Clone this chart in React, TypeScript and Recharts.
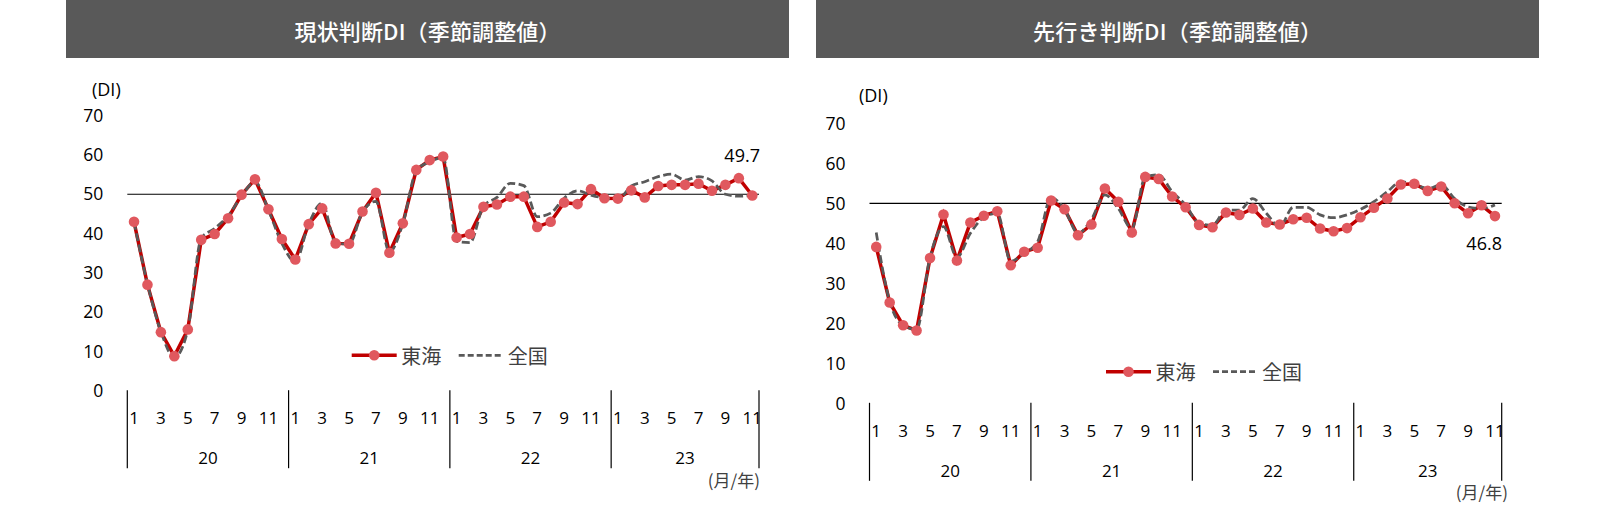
import { LineChart, Line, XAxis, YAxis, ReferenceLine } from "recharts";

const YEARS = ["20", "21", "22", "23"];
const MONTHS_IN_YEAR = [12, 12, 12, 11];
const Y_TICKS = [0, 10, 20, 30, 40, 50, 60, 70];

// 現状判断DI（季節調整値）
const CURRENT_TOKAI = [
  43.0, 27.0, 14.9, 8.8, 15.6, 38.4, 39.9, 43.9, 49.9, 53.8, 46.2, 38.6,
  33.4, 42.4, 46.4, 37.5, 37.4, 45.6, 50.4, 35.1, 42.6, 56.2, 58.7, 59.6,
  39.0, 39.9, 46.8, 47.4, 49.4, 49.4, 41.7, 43.0, 47.9, 47.5, 51.3, 49.0,
  48.9, 51.0, 49.2, 52.1, 52.4, 52.4, 52.7, 50.9, 52.4, 54.1, 49.7,
];
const CURRENT_NATIONAL = [
  43.0, 27.2, 15.0, 8.5, 15.5, 38.8, 41.3, 44.5, 49.5, 53.2, 46.0, 37.5,
  32.8, 42.5, 47.7, 37.6, 37.3, 45.5, 48.2, 35.3, 42.5, 56.0, 58.3, 59.3,
  38.0, 37.7, 47.0, 49.2, 52.8, 52.2, 44.3, 45.2, 49.0, 50.9, 49.8, 49.0,
  48.7, 52.1, 53.2, 54.5, 55.1, 53.6, 54.5, 53.4, 50.0, 49.5, 49.8,
];

// 先行き判断DI（季節調整値）
const OUTLOOK_TOKAI = [
  39.1, 25.2, 19.5, 18.2, 36.3, 47.2, 35.7, 45.2, 46.9, 48.0, 34.5, 37.9,
  38.9, 50.7, 48.5, 42.0, 44.7, 53.7, 50.4, 42.7, 56.6, 56.1, 51.7, 49.0,
  44.6, 44.0, 47.7, 47.1, 48.7, 45.2, 44.7, 46.0, 46.4, 43.7, 43.0, 43.8,
  46.5, 48.9, 51.2, 54.7, 54.9, 53.1, 54.2, 50.0, 47.5, 49.5, 46.8,
];
const OUTLOOK_NATIONAL = [
  42.7, 25.5, 19.5, 18.5, 36.5, 44.2, 36.5, 42.5, 46.5, 47.5, 35.5, 37.5,
  40.4, 51.4, 48.5, 42.5, 46.0, 52.1, 48.7, 43.7, 56.6, 57.1, 52.9, 49.6,
  45.0, 44.5, 48.3, 48.3, 51.2, 47.5, 44.2, 49.0, 49.0, 47.1, 46.4, 47.1,
  48.5, 50.4, 52.9, 55.4, 54.7, 53.7, 54.6, 51.2, 49.1, 48.7, 49.6,
];

const categories = YEARS.flatMap((year, i) =>
  Array.from({ length: MONTHS_IN_YEAR[i] }, (_, m) => ({
    year,
    month: m + 1,
    count: MONTHS_IN_YEAR[i],
  }))
);

const RED = "#C00000";
const DOT = "#E0585E";
const GRAY = "#595959";
const TEXT = "#404040";
const NUM_FONT = "'Open Sans', 'Noto Sans', sans-serif";
const JP_FONT = "'Noto Sans CJK JP', sans-serif";

const W = 800;
const H = 505;
const Y_W = 40;
const X_H = 80;

interface Plot {
  left: number;
  right: number;
  top: number;
  bottom: number;
}

interface PanelProps {
  offsetX: number;
  plot: Plot;
  tokai: number[];
  national: number[];
  labelDx: number;
  labelDy: number;
}

const Panel = ({ offsetX, plot, tokai, national, labelDx, labelDy }: PanelProps) => {
  const data = categories.map((c, i) => ({
    key: `${c.year}-${c.month}`,
    tokai: tokai[i],
    national: national[i],
  }));
  const band = (plot.right - plot.left) / categories.length;
  const last = data.length - 1;

  const renderTick = (props: any) => {
    const { x, y } = props;
    const index = props.index ?? props.payload?.index;
    const c = categories[index];
    if (!c) return <g />;
    return (
      <g>
        {c.month % 2 === 1 && (
          <text
            x={x}
            y={y + 27}
            textAnchor="middle"
            dominantBaseline="central"
            fontSize={17}
            fontFamily={NUM_FONT}
            fill="#000"
          >
            {c.month}
          </text>
        )}
        {c.month === 1 && (
          <>
            <line x1={x - band / 2} x2={x - band / 2} y1={y - 0.5} y2={y + 77.5} stroke="#000" strokeWidth={1.2} />
            <text
              x={x - band / 2 + (c.count * band) / 2}
              y={y + 67}
              textAnchor="middle"
              dominantBaseline="central"
              fontSize={17}
              fontFamily={NUM_FONT}
              fill="#000"
            >
              {c.year}
            </text>
          </>
        )}
        {index === categories.length - 1 && (
          <line x1={x + band / 2} x2={x + band / 2} y1={y - 0.5} y2={y + 77.5} stroke="#000" strokeWidth={1.2} />
        )}
      </g>
    );
  };

  const renderLabel = (props: any) => {
    const { x, y, index, value } = props;
    if (index !== last) return <g />;
    return (
      <text
        x={x + labelDx}
        y={y + labelDy}
        textAnchor="end"
        dominantBaseline="central"
        fontSize={18}
        fontFamily={NUM_FONT}
        fill="#000"
      >
        {Number(value).toFixed(1)}
      </text>
    );
  };

  return (
    <div style={{ position: "absolute", left: offsetX, top: 0, width: W, height: H }}>
      <LineChart
        width={W}
        height={H}
        data={data}
        margin={{
          top: plot.top,
          left: plot.left - offsetX - Y_W,
          right: offsetX + W - plot.right,
          bottom: H - plot.bottom - X_H,
        }}
      >
        <XAxis
          dataKey="key"
          interval={0}
          axisLine={false}
          tickLine={false}
          tickSize={0}
          tickMargin={0}
          height={X_H}
          padding={{ left: band / 2, right: band / 2 }}
          tick={renderTick}
        />
        <YAxis
          domain={[0, 70]}
          ticks={Y_TICKS}
          width={Y_W}
          axisLine={false}
          tickLine={false}
          tickSize={0}
          tickMargin={24}
          tick={{ fontSize: 17.5, fontFamily: NUM_FONT, fill: "#000" }}
        />
        <ReferenceLine y={50} stroke="#000" strokeWidth={1.2} />
        <Line
          dataKey="tokai"
          type="linear"
          stroke={RED}
          strokeWidth={3.5}
          dot={{ r: 5.3, fill: DOT, stroke: DOT, strokeWidth: 0 }}
          activeDot={false}
          label={renderLabel}
          isAnimationActive={false}
        />
        <Line
          dataKey="national"
          type="monotone"
          stroke={GRAY}
          strokeWidth={2.75}
          strokeDasharray="8 3.5"
          dot={false}
          activeDot={false}
          isAnimationActive={false}
        />
      </LineChart>
    </div>
  );
};

const Legend = ({ x, y }: { x: number; y: number }) => (
  <g>
    <line x1={x} x2={x + 45} y1={y} y2={y} stroke={RED} strokeWidth={3.5} />
    <circle cx={x + 22.5} cy={y} r={5.3} fill={DOT} />
    <text x={x + 49.5} y={y} dominantBaseline="central" fontSize={20} fontFamily={JP_FONT} fill={TEXT}>
      東海
    </text>
    <line x1={x + 107} x2={x + 151} y1={y} y2={y} stroke={GRAY} strokeWidth={2.75} strokeDasharray="6 3" />
    <text x={x + 156} y={y} dominantBaseline="central" fontSize={20} fontFamily={JP_FONT} fill={TEXT}>
      全国
    </text>
  </g>
);

const Title = ({ x, text, width }: { x: number; text: string; width: number }) => (
  <g>
    <rect x={x} y={0} width={723} height={58} fill="#595959" />
    <text
      x={x + 361.5}
      y={29.7}
      textAnchor="middle"
      dominantBaseline="central"
      fontSize={22}
      fontWeight={500}
      fontFamily={JP_FONT}
      fill="#fff"
      textLength={width}
      lengthAdjust="spacing"
    >
      {text}
    </text>
  </g>
);

export default function App() {
  return (
    <div style={{ position: "absolute", left: 0, top: 0, width: 1600, height: 505, background: "#fff", overflow: "hidden" }}>
      <Panel
        offsetX={0}
        plot={{ left: 127.3, right: 759, top: 115.7, bottom: 390.7 }}
        tokai={CURRENT_TOKAI}
        national={CURRENT_NATIONAL}
        labelDx={7.7}
        labelDy={-40.4}
      />
      <Panel
        offsetX={800}
        plot={{ left: 869.5, right: 1501.7, top: 123.3, bottom: 403.3 }}
        tokai={OUTLOOK_TOKAI}
        national={OUTLOOK_NATIONAL}
        labelDx={7}
        labelDy={27.2}
      />
      <svg width={1600} height={505} style={{ position: "absolute", left: 0, top: 0, pointerEvents: "none" }}>
        <Title x={66} text="現状判断DI（季節調整値）" width={266} />
        <Title x={816} text="先行き判断DI（季節調整値）" width={289} />
        <text x={92} y={89} dominantBaseline="central" fontSize={18} fontFamily={NUM_FONT} fill="#000">(DI)</text>
        <text x={859} y={95} dominantBaseline="central" fontSize={18} fontFamily={NUM_FONT} fill="#000">(DI)</text>
        <text x={760} y={479} textAnchor="end" dominantBaseline="central" fontSize={17} fontFamily={JP_FONT} fill={TEXT}>(月/年)</text>
        <text x={1508} y={491} textAnchor="end" dominantBaseline="central" fontSize={17} fontFamily={JP_FONT} fill={TEXT}>(月/年)</text>
        <Legend x={351.7} y={355.3} />
        <Legend x={1106} y={371.7} />
      </svg>
    </div>
  );
}
